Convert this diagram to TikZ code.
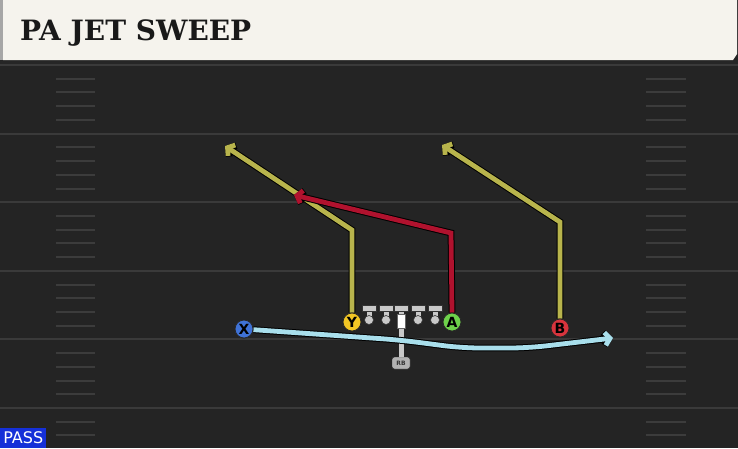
\documentclass[tikz,border=0pt]{standalone}
\usepackage{fontspec}
\newfontfamily\titlefont{DejaVu Serif}
\newfontfamily\labelfont{DejaVu Sans}
\usetikzlibrary{arrows.meta}

\definecolor{fieldbg}{HTML}{242424}
\definecolor{headbg}{HTML}{F5F3ED}
\definecolor{lineclr}{HTML}{3A3A3A}
\definecolor{hashclr}{HTML}{3C3C3C}
\definecolor{yroute}{HTML}{B8B44C}
\definecolor{rroute}{HTML}{B0122E}
\definecolor{broute}{HTML}{A9DFEC}
\definecolor{xclr}{HTML}{3F72D6}
\definecolor{yclr}{HTML}{F2C624}
\definecolor{aclr}{HTML}{6ED24B}
\definecolor{bclr}{HTML}{D8343D}
\definecolor{olclr}{HTML}{C9C9C9}
\definecolor{passclr}{HTML}{1530D8}

\tikzset{
  player/.style={circle, draw=black!85, line width=0.8pt, minimum size=18pt,
    inner sep=0pt, text=black, font=\labelfont\bfseries\fontsize{14}{14}\selectfont},
  route/.style={line width=4.8pt, -{Straight Barb[length=5pt,width=13pt]},
    preaction={draw=black, line width=6.8pt}},
  yardline/.style={draw=lineclr, line width=2pt},
  hashmark/.style={draw=hashclr, line width=2pt},
  olbar/.style={draw=black!80, fill=olclr, line width=0.6pt},
  olstem/.style={draw=olclr, line width=5pt}
}

\begin{document}
\begin{tikzpicture}[x=1pt, y=-1pt]
\useasboundingbox (0,0) rectangle (738,448);

% Field and header
\fill[fieldbg] (0,0) rectangle (738,448);
\fill[black!85] (0,60) rectangle (738,64);
\fill[gray!70] (0,0) rectangle (3,60);
\fill[headbg] (3,0) -- (737,0) -- (737,54) -- (733,60) -- (3,60) -- cycle;
\node[anchor=west, text=black!90, inner sep=0pt,
  font=\titlefont\bfseries\fontsize{28}{28}\selectfont]
  (title) at (20,33) {PA JET SWEEP};

% Yard lines
\draw[yardline] (0,65) -- (738,65);
\draw[yardline] (0,133.6) -- (738,133.6);
\draw[yardline] (0,202.2) -- (738,202.2);
\draw[yardline] (0,270.8) -- (738,270.8);
\draw[yardline] (0,339.4) -- (738,339.4);
\draw[yardline] (0,408) -- (738,408);

% Hash marks, left and right
\draw[hashmark] (56,78.7) -- (95,78.7) (646,78.7) -- (686,78.7);
\draw[hashmark] (56,92.4) -- (95,92.4) (646,92.4) -- (686,92.4);
\draw[hashmark] (56,106.2) -- (95,106.2) (646,106.2) -- (686,106.2);
\draw[hashmark] (56,119.9) -- (95,119.9) (646,119.9) -- (686,119.9);
\draw[hashmark] (56,147.3) -- (95,147.3) (646,147.3) -- (686,147.3);
\draw[hashmark] (56,161.0) -- (95,161.0) (646,161.0) -- (686,161.0);
\draw[hashmark] (56,174.8) -- (95,174.8) (646,174.8) -- (686,174.8);
\draw[hashmark] (56,188.5) -- (95,188.5) (646,188.5) -- (686,188.5);
\draw[hashmark] (56,215.9) -- (95,215.9) (646,215.9) -- (686,215.9);
\draw[hashmark] (56,229.6) -- (95,229.6) (646,229.6) -- (686,229.6);
\draw[hashmark] (56,243.4) -- (95,243.4) (646,243.4) -- (686,243.4);
\draw[hashmark] (56,257.1) -- (95,257.1) (646,257.1) -- (686,257.1);
\draw[hashmark] (56,284.5) -- (95,284.5) (646,284.5) -- (686,284.5);
\draw[hashmark] (56,298.2) -- (95,298.2) (646,298.2) -- (686,298.2);
\draw[hashmark] (56,312.0) -- (95,312.0) (646,312.0) -- (686,312.0);
\draw[hashmark] (56,325.7) -- (95,325.7) (646,325.7) -- (686,325.7);
\draw[hashmark] (56,353.1) -- (95,353.1) (646,353.1) -- (686,353.1);
\draw[hashmark] (56,366.8) -- (95,366.8) (646,366.8) -- (686,366.8);
\draw[hashmark] (56,380.6) -- (95,380.6) (646,380.6) -- (686,380.6);
\draw[hashmark] (56,394.3) -- (95,394.3) (646,394.3) -- (686,394.3);
\draw[hashmark] (56,421.7) -- (95,421.7) (646,421.7) -- (686,421.7);
\draw[hashmark] (56,435.4) -- (95,435.4) (646,435.4) -- (686,435.4);

% Play type tag
\node[fill=passclr, text=white, anchor=south west, minimum width=46pt,
  minimum height=20pt, inner sep=0pt, font=\labelfont\fontsize{16}{16}\selectfont]
  (pass) at (0,448) {PASS};

% Skill players
\node[player, fill=xclr] (X) at (244,329) {X};
\node[player, fill=yclr] (Y) at (352,322) {Y};
\node[player, fill=aclr] (A) at (452,322) {A};
\node[player, fill=bclr] (B) at (560,328) {B};

% Route corners and ends
\coordinate (ycut) at (352,230);
\coordinate (yend) at (225,146);
\coordinate (bcut) at (560,222);
\coordinate (bend) at (442,145);
\coordinate (acut) at (451,233);
\coordinate (aend) at (294,195);
\coordinate (xa) at (400,340);
\coordinate (xb) at (462,348);
\coordinate (xc) at (528,348);
\coordinate (xend) at (613,338);

% Running back and snap line
\node[draw=black!85, fill=gray!60, rounded corners=2.5pt, minimum width=18pt,
  minimum height=12pt, inner sep=0pt, text=black!80,
  font=\labelfont\bfseries\fontsize{6}{6}\selectfont] (RB) at (401,363) {RB};
\coordinate (snap) at (401,318);
\draw[olstem] (snap) -- (RB.north);

% Routes
\draw[route, yroute] (Y) -- (ycut) -- (yend);
\draw[route, yroute] (B) -- (bcut) -- (bend);
\draw[route, rroute] (A.north) -- (acut) -- (aend);
\draw[route, broute, rounded corners=18pt] (X) -- (xa) -- (xb) -- (xc) -- (xend);

% Offensive line
\draw[olstem] (369,309) -- (369,318);
\draw[olbar] (362,305) rectangle (376,311);
\draw[olbar] (369,320) circle (4.5);
\draw[olstem] (386,309) -- (386,318);
\draw[olbar] (379,305) rectangle (393,311);
\draw[olbar] (386,320) circle (4.5);
\draw[olstem] (401,309) -- (401,318);
\draw[olbar] (394,305) rectangle (408,311);
\draw[fill=white, draw=black!60, line width=0.5pt] (397,314) rectangle (405,328);
\draw[olstem] (418,309) -- (418,318);
\draw[olbar] (411,305) rectangle (425,311);
\draw[olbar] (418,320) circle (4.5);
\draw[olstem] (435,309) -- (435,318);
\draw[olbar] (428,305) rectangle (442,311);
\draw[olbar] (435,320) circle (4.5);

% Players on top of route starts
\node[player, fill=xclr] at (X) {X};
\node[player, fill=yclr] at (Y) {Y};
\node[player, fill=aclr] at (A) {A};
\node[player, fill=bclr] at (B) {B};
\end{tikzpicture}
\end{document}
